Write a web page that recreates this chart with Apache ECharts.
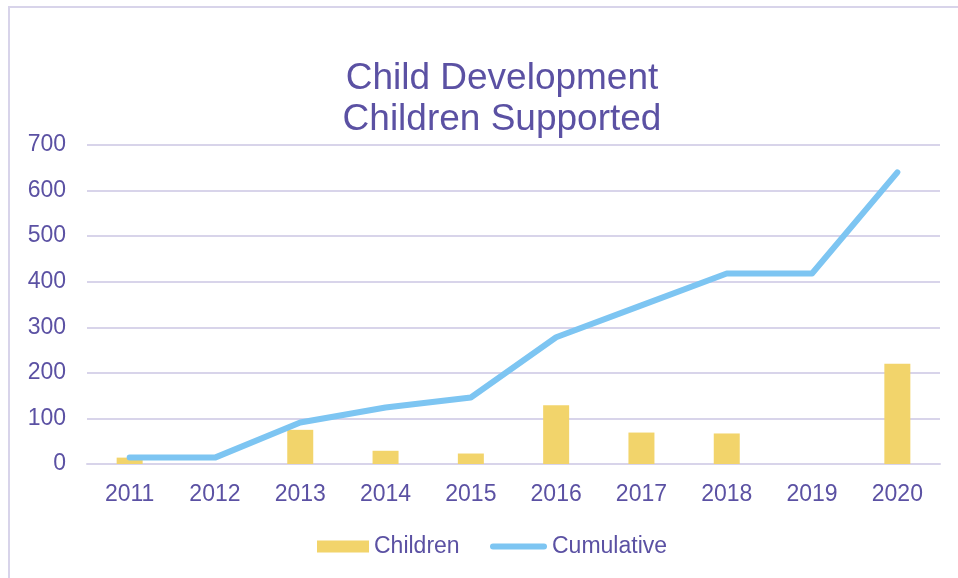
<!DOCTYPE html>
<html>
<head>
<meta charset="utf-8">
<script src="https://cdn.jsdelivr.net/npm/echarts@6/dist/echarts.min.js"></script>
<style>
html,body{margin:0;padding:0;background:#fff;}
#c{width:958px;height:578px;}
</style>
</head>
<body>
<div id="c"></div>
<script>
const years = ['2011','2012','2013','2014','2015','2016','2017','2018','2019','2020'];
const children = [14, 0, 75, 29, 23, 129, 69, 67, 0, 220];
const cumulative = [14, 14, 91, 124, 146, 278, 348, 418, 418, 640];
const yTicks = [0, 100, 200, 300, 400, 500, 600, 700];

const txt = '#5b51a3';
const font = '"Liberation Sans", Arial, sans-serif';
const chart = echarts.init(document.getElementById('c'));
chart.setOption({
  animation: false,
  textStyle: { fontFamily: font },
  graphic: [{
    type: 'rect', shape: { x: 9, y: 7, width: 1000, height: 600 },
    style: { fill: 'none', stroke: '#d8d4ea', lineWidth: 2 }, silent: true
  }],
  title: {
    text: 'Child Development\nChildren Supported',
    left: 497, textAlign: 'center', top: 53,
    textStyle: { color: txt, fontSize: 37, fontWeight: 'normal', lineHeight: 41, fontFamily: font }
  },
  legend: [{
    left: 312, bottom: 15, itemWidth: 52, itemHeight: 12,
    textStyle: { color: txt, fontSize: 23, fontFamily: font },
    data: [{ name: 'Children', icon: 'rect' }]
  }, {
    left: 485, bottom: 15, itemWidth: 57, itemHeight: 6,
    textStyle: { color: txt, fontSize: 23, fontFamily: font },
    data: [{ name: 'Cumulative', icon: 'path://M3,0 L54,0 A3,3 0 0 1 54,6 L3,6 A3,3 0 0 1 3,0 Z' }]
  }],
  grid: { left: 87, right: 18, top: 145, bottom: 114, containLabel: false },
  xAxis: {
    type: 'category', data: years,
    axisLine: { lineStyle: { color: '#d8d4ea', width: 2 } },
    axisTick: { show: false },
    axisLabel: { color: txt, fontSize: 23, margin: 19, fontFamily: font }
  },
  yAxis: {
    type: 'value', min: yTicks[0], max: yTicks[yTicks.length - 1], interval: 100,
    axisLine: { show: false }, axisTick: { show: false },
    axisLabel: { color: txt, fontSize: 23, margin: 21, fontFamily: font },
    splitLine: { lineStyle: { color: '#d8d4ea', width: 2 } }
  },
  series: [{
    name: 'Children', type: 'bar', data: children, barWidth: 26,
    itemStyle: { color: '#f2d46b' }
  }, {
    name: 'Cumulative', type: 'line', data: cumulative, symbol: 'none',
    lineStyle: { color: '#7dc5f2', width: 6, cap: 'round', join: 'round' },
    itemStyle: { color: '#7dc5f2' }
  }]
});
</script>
</body>
</html>
